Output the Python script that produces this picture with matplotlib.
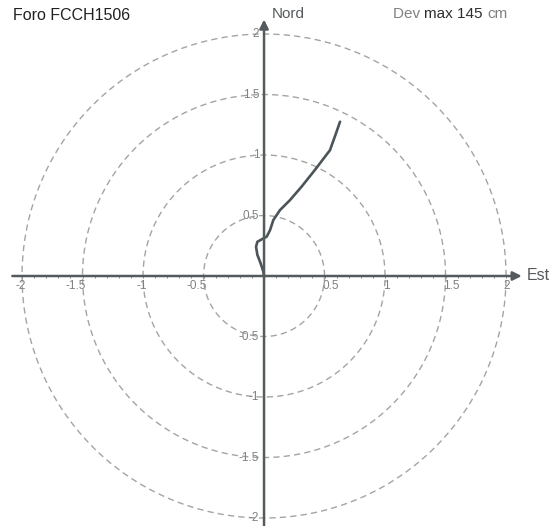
import numpy as np
import matplotlib
matplotlib.use("Agg")
import matplotlib.pyplot as plt

plt.rcParams['font.family'] = ['Liberation Sans', 'DejaVu Sans']

# deviazione del foro (m): est, nord
est = [0.0, -0.006, -0.019, -0.033, -0.055, -0.066, -0.055, -0.019, 0.022,
       0.05, 0.077, 0.132, 0.215, 0.31, 0.42, 0.545, 0.595, 0.628]
nord = [0.0, 0.036, 0.077, 0.118, 0.174, 0.242, 0.283, 0.303, 0.325,
        0.38, 0.463, 0.545, 0.628, 0.738, 0.876, 1.04, 1.18, 1.275]

raggi = [0.5, 1.0, 1.5, 2.0]
tick_x = [-2, -1.5, -1, -0.5, 0.5, 1, 1.5, 2]
tick_y = [2, 1.5, 1, 0.5, -0.5, -1, -1.5, -2]

titolo = 'Foro FCCH1506'
dev_max = 145

grigio_assi = '#555a5c'
grigio_cerchi = '#a4a4a4'
grigio_testo = '#808080'

fig = plt.figure(figsize=(5.53, 5.26), dpi=100)
ax = fig.add_axes([0, 0, 1, 1])
ax.set_xlim(-2.182, 2.388)
ax.set_ylim(-2.066, 2.281)
ax.axis('off')

# cerchi di riferimento
t = np.linspace(0, 2 * np.pi, 400)
for r in raggi:
    ax.plot(r * np.cos(t), r * np.sin(t), color=grigio_cerchi, lw=1.0,
            ls=(0, (4.5, 3)))

# assi con freccia
ax.annotate('', xy=(2.13, 0), xytext=(-2.08, 0),
            arrowprops=dict(arrowstyle='-|>', color=grigio_assi, lw=1.8,
                            mutation_scale=13, shrinkA=0, shrinkB=0))
ax.annotate('', xy=(0, 2.12), xytext=(0, -2.07),
            arrowprops=dict(arrowstyle='-|>', color=grigio_assi, lw=1.8,
                            mutation_scale=13, shrinkA=0, shrinkB=0))

# tacche secondarie sull'asse est
minori = np.arange(-2.0, 2.01, 0.1)
ax.plot(minori, np.zeros_like(minori) - 0.012, ls='none', marker='|', ms=2,
        color='#8a8a8a', mew=0.7)

for v in tick_x:
    lab = ('%g' % v)
    if v < 0:
        ax.text(v + 0.03, -0.035, lab, ha='right', va='top', fontsize=8.5,
                color=grigio_testo)
    else:
        ax.text(v - 0.02, -0.035, lab, ha='left', va='top', fontsize=8.5,
                color=grigio_testo)

for v in tick_y:
    ax.text(-0.04, v, '%g' % v, ha='right', va='center', fontsize=8.5,
            color=grigio_testo)

# traiettoria
ax.plot(est, nord, color='#4b5559', lw=1.9, solid_capstyle='round')

# testi
fig.text(13 / 553, 1 - 15 / 526, titolo, ha='left', va='center',
         fontsize=11.5, color='#222222')
fig.text(272 / 553, 1 - 14 / 526, 'Nord', ha='left', va='center',
         fontsize=11, color=grigio_assi)
fig.text(527 / 553, 1 - 276 / 526, 'Est', ha='left', va='center',
         fontsize=11.5, color=grigio_assi)

# "Dev max 145 cm" composto a pezzi, uno dopo l'altro
renderer = fig.canvas.get_renderer()
x0 = 393
pezzi = [('Dev ', grigio_testo), ('max %d ' % dev_max, '#2e2e2e'),
         ('cm', grigio_testo)]
for testo, col in pezzi:
    tt = fig.text(x0 / 553, 1 - 14 / 526, testo, ha='left', va='center',
                  fontsize=11, color=col)
    x0 += tt.get_window_extent(renderer).width

fig.savefig('out.png', dpi=100)
